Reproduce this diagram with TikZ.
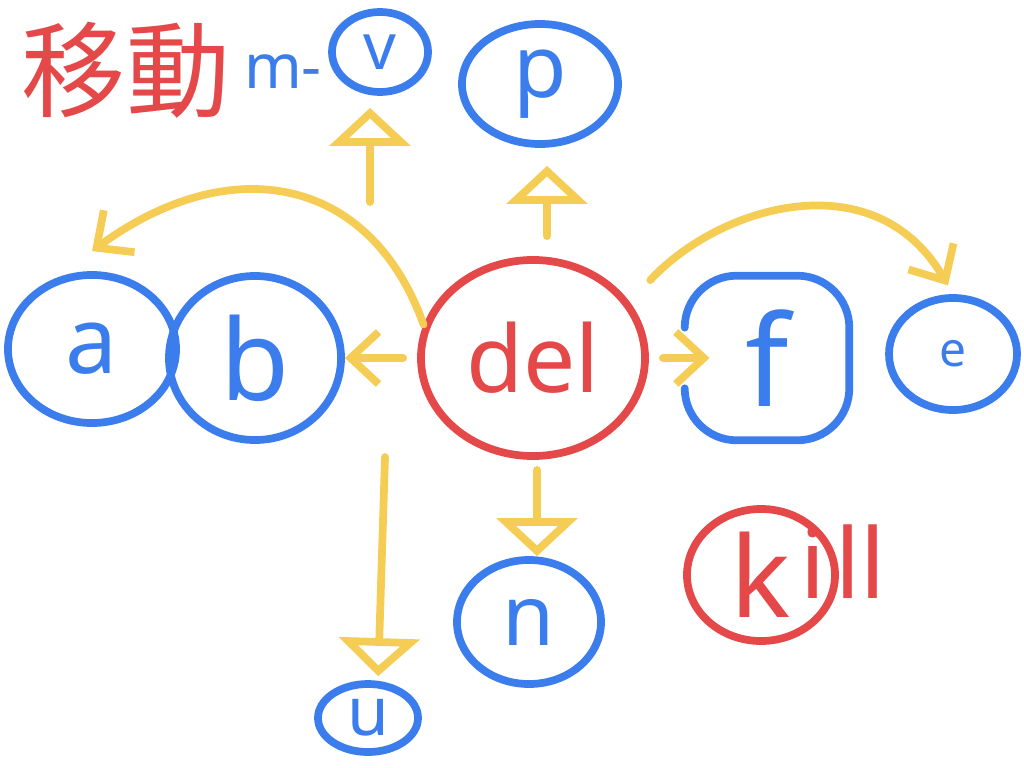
\documentclass[tikz,border=0pt]{standalone}
\usepackage{fontspec}
\setmainfont{Noto Sans}
\newfontfamily\cjk{Noto Sans CJK TC}
\usetikzlibrary{shapes.geometric,arrows.meta}
\definecolor{penred}{RGB}{229,72,72}
\definecolor{penblue}{RGB}{59,125,237}
\definecolor{penyellow}{RGB}{246,205,84}
\newcommand{\fsz}[1]{\fontsize{#1}{#1}\selectfont}
\tikzset{
  vert/.style={ellipse, draw=penblue, text=penblue, line width=5.5pt, inner sep=0pt},
  tri/.style={draw=penyellow, line width=5.5pt, line cap=round, line join=round, -{Triangle[open, length=0.95cm, width=2cm]}},
  barb/.style={draw=penyellow, line width=5.5pt, line cap=round, line join=round, -{Straight Barb[length=0.7cm, width=1.3cm]}},
}
\begin{document}
\begin{tikzpicture}[x=0.025cm, y=-0.025cm]
\useasboundingbox (0,0) rectangle (1024,768);
\node[text=penred, inner sep=0pt] (T_move) at (126,70) {\cjk\fsz{74}移動};
\node[text=penblue, inner sep=0pt] (T_mv) at (283,72) {\fsz{44}m-};
\node[vert, minimum width=4.2cm, minimum height=3.7cm] (N_a) at (92,349) {\fsz{66}a};
\node[vert, minimum width=4.3cm, minimum height=4.1cm] (N_b) at (255,358) {\fsz{80}b};
\node[vert, draw=penred, text=penred, minimum width=5.6cm, minimum height=4.9cm] (N_del) at (533,358) {\fsz{66}del};
\node[text=penblue, minimum width=4.1cm, minimum height=4.1cm, inner sep=0pt] (N_f) at (767,358) {\fsz{90}f};
\draw[penblue, line width=5.5pt, line cap=round, rounded corners=1.3cm] ([yshift=-1.3cm]N_f.north west) -- (N_f.north west) -- (N_f.north east) -- (N_f.south east) -- (N_f.south west) -- ([yshift=1.3cm]N_f.south west);
\node[vert, minimum width=3.2cm, minimum height=2.8cm] (N_e) at (953,354) {\fsz{34}e};
\node[vert, minimum width=3.9cm, minimum height=3cm] (N_p) at (540,84) {\fsz{62}p};
\node[vert, minimum width=2.4cm, minimum height=2cm] (N_v) at (380,52) {\fsz{46}v};
\node[vert, minimum width=3.6cm, minimum height=3.1cm] (N_n) at (529,622) {\fsz{60}n};
\node[vert, minimum width=2.5cm, minimum height=1.7cm] (N_u) at (368,718) {\fsz{48}u};
\node[vert, draw=penred, text=penred, minimum width=3.7cm, minimum height=3.3cm] (N_k) at (761,575) {\fsz{80}k};
\node[text=penred, inner sep=0pt] (T_ill) at (843,562) {\fsz{69}i\hspace{0.1em}ll};
\draw[tri, shorten <=0.5cm, shorten >=0.45cm] ([xshift=0.35cm]N_del.north) -- ([xshift=0.175cm]N_p.south);
\draw[barb, shorten <=0.35cm] (N_del) -- (N_b);
\draw[barb, shorten <=0.35cm, shorten >=-0.62cm] (N_del) -- (N_f);
\draw[tri, shorten <=0.25cm] ([xshift=0.1cm]N_del.south) -- ([xshift=0.2cm]N_n.north);
\draw[barb] (N_del.163) .. controls (370,175) and (230,150) .. ([yshift=0.5cm]N_a.north);
\draw[barb, shorten <=0.75cm, shorten >=0.25cm] (N_del.30) .. controls (720,205) and (875,160) .. (N_e.north);
\coordinate (C_vtail) at (370,202);
\draw[tri, shorten >=0.3cm] (C_vtail) -- (C_vtail |- N_v.south);
\coordinate (C_utail) at (385,457);
\draw[tri, shorten >=0.1cm] (C_utail) -- ([xshift=0.25cm]N_u.north);
\end{tikzpicture}
\end{document}
